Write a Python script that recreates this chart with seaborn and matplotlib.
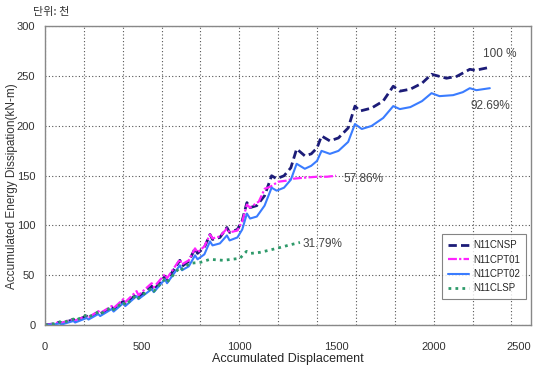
import numpy as np
import pandas as pd
import matplotlib
matplotlib.use("Agg")
import matplotlib.pyplot as plt
import seaborn as sns
from matplotlib.ticker import MultipleLocator

# Series (accumulated displacement, accumulated energy)
cnsp_x = [0, 40, 77, 85, 146, 155, 214, 224, 274, 284, 343, 353, 403, 413, 471, 481,
          549, 560, 617, 628, 694, 705, 740, 772, 785, 820, 849, 862, 900, 936, 950,
          990, 1015, 1039, 1055, 1090, 1130, 1166, 1192, 1230, 1265, 1295, 1337, 1370,
          1400, 1423, 1466, 1510, 1560, 1595, 1620, 1680, 1740, 1792, 1826, 1880, 1940,
          1989, 2066, 2120, 2186, 2215, 2289]
cnsp_y = [0, 1, 3, 1.5, 5.5, 4, 9, 7, 13, 11, 18, 15.5, 24, 21, 31, 28,
          39, 35, 49, 45, 65, 59, 64, 77, 72, 78, 91, 86, 88, 98, 93,
          96, 105, 123, 118, 120, 130, 150, 147, 150, 158, 177, 170, 172,
          178, 190, 185, 188, 198, 220, 215, 218, 225, 240, 235, 237, 243,
          252, 248, 250, 257, 256, 259]

cpt01_x = [0, 40, 77, 85, 146, 155, 214, 224, 274, 284, 343, 353, 403, 413, 471, 481,
           549, 560, 617, 628, 694, 705, 740, 772, 785, 820, 849, 862, 900, 936, 950,
           990, 1015, 1039, 1055, 1100, 1131, 1160, 1200, 1240, 1277, 1330, 1400, 1450,
           1497]
cpt01_y = [0, 1, 3, 2, 6, 4.5, 9, 7.5, 14, 12, 19, 17, 26, 23, 34, 30,
           42, 38, 51, 47, 66, 61, 65, 77, 73, 79, 91, 87, 89, 97, 93,
           95, 104, 121, 118, 124, 137, 139, 144, 145, 147, 148, 149, 149,
           150]

cpt02_x = [0, 40, 77, 85, 146, 155, 214, 224, 274, 284, 343, 353, 403, 413, 471, 481,
           549, 560, 617, 628, 694, 705, 740, 772, 785, 820, 849, 862, 900, 936, 950,
           990, 1015, 1039, 1055, 1090, 1130, 1166, 1192, 1230, 1265, 1295, 1337, 1370,
           1400, 1423, 1466, 1510, 1560, 1595, 1630, 1680, 1740, 1792, 1826, 1880, 1940,
           1989, 2030, 2100, 2150, 2186, 2220, 2289]
cpt02_y = [0, 0.5, 1.5, 0.5, 4, 2.5, 7, 5.5, 11, 9, 16, 13.5, 22, 19, 29, 26,
           36, 33, 46, 42, 60, 55, 59, 70, 66, 71, 84, 80, 82, 90, 85,
           88, 96, 112, 107, 109, 120, 138, 135, 138, 146, 162, 157, 160,
           165, 175, 172, 175, 184, 202, 197, 200, 208, 220, 217, 219, 225,
           233, 230, 231, 234, 238, 236, 238]

clsp_x = [0, 40, 77, 85, 146, 155, 214, 224, 274, 284, 343, 353, 403, 413, 471, 481,
          549, 560, 617, 628, 694, 705, 746, 800, 849, 917, 1003, 1037, 1060, 1106,
          1150, 1192, 1250, 1312]
clsp_y = [0, 1, 3, 2, 6, 4.5, 10, 8, 13, 11, 18, 15.5, 23, 20, 30, 27,
          37, 34, 46, 43, 58, 56, 62, 63, 66, 65, 67, 74, 72, 73,
          75, 77, 80, 83]

labels = ["N11CNSP", "N11CPT01", "N11CPT02", "N11CLSP"]
x_ticks = [0, 500, 1000, 1500, 2000, 2500]
pct_text = ["100 %", "57.86%", "92.69%", "31.79%"]
pct_pos = [(2253, 272), (1538, 147), (2191, 220), (1327, 81)]

sns.set_theme(style="white")
plt.rcParams["font.family"] = ["Liberation Sans", "DejaVu Sans"]

fig = plt.figure(figsize=(5.41, 3.65), dpi=100)
ax = fig.add_axes([0.0832, 0.1096, 0.898, 0.8178])

sns.lineplot(x=cnsp_x, y=cnsp_y, ax=ax, sort=False, color="#1c1c78",
             linestyle=(0, (3, 1.5)), linewidth=2, label=labels[0])
sns.lineplot(x=cpt01_x, y=cpt01_y, ax=ax, sort=False, color="#ff22ff",
             linestyle=(0, (4, 1, 1, 1)), linewidth=1.6, label=labels[1])
sns.lineplot(x=cpt02_x, y=cpt02_y, ax=ax, sort=False, color="#3a7cff",
             linestyle="-", linewidth=1.5, label=labels[2])
sns.lineplot(x=clsp_x, y=clsp_y, ax=ax, sort=False, color="#2e9a6a",
             linestyle=(0, (1, 1.5)), linewidth=2, label=labels[3])

for t, (px, py) in zip(pct_text, pct_pos):
    ax.text(px, py, t, fontsize=8.5, color="#444444", va="center", ha="left")

ax.set_xlim(0, 2500)
ax.set_ylim(0, 300)
ax.set_xticks(x_ticks, [str(v) for v in x_ticks])
ax.xaxis.set_minor_locator(MultipleLocator(200))
ax.xaxis.remove_overlapping_locs = False
ax.yaxis.set_major_locator(MultipleLocator(50))
ax.grid(False)
ax.grid(which="minor", axis="x", color="#555555", linestyle=(0, (1, 2)), linewidth=0.8)
ax.grid(which="major", axis="y", color="#555555", linestyle=(0, (1, 2)), linewidth=0.8)
ax.tick_params(axis="both", labelsize=8, colors="#333333", length=0)
ax.tick_params(axis="x", pad=12)
ax.tick_params(axis="y", pad=7)
for s in ax.spines.values():
    s.set_color("#888888")
    s.set_linewidth(1)

# keep the last x tick label inside the figure
ax.get_xticklabels()[-1].set_horizontalalignment("right")

ax.set_xlabel("Accumulated Displacement", fontsize=9, labelpad=1)
fig.text(0.022, 0.49, "Accumulated Energy Dissipation(kN-m)", fontsize=8.5,
         rotation=90, ha="center", va="center", color="#333333")

leg = ax.legend(loc="lower right", bbox_to_anchor=(1.0, 0.07), fontsize=7,
                frameon=True, fancybox=False, handlelength=2.2, borderpad=0.6,
                labelspacing=0.45, handletextpad=0.4)
leg.get_frame().set_edgecolor("#666666")
leg.get_frame().set_linewidth(0.8)

fig.text(0.061, 0.958, "단위: 천", fontsize=8,
         family=["Noto Sans CJK KR", "DejaVu Sans"], color="#333333")

fig.savefig("out.png", dpi=100)
